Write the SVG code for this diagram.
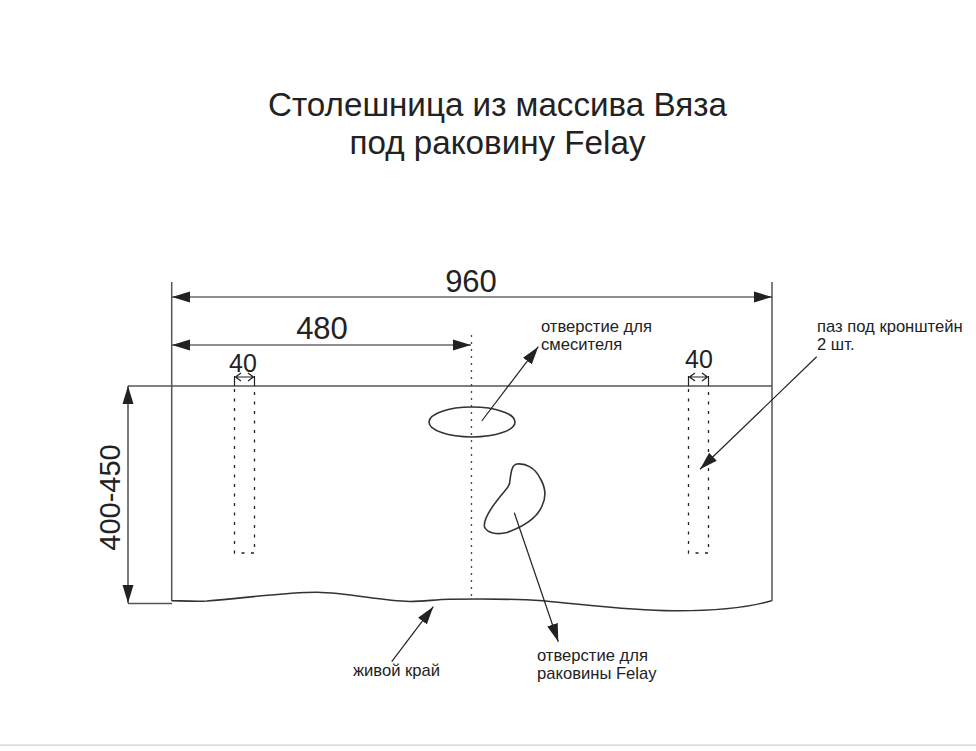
<svg xmlns="http://www.w3.org/2000/svg" width="976" height="751" viewBox="0 0 976 751">
<style>
text{font-family:"Liberation Sans",Arial,sans-serif;fill:#222}
.title{font-size:33.2px;text-anchor:middle}
.dim{font-size:31px;text-anchor:middle}
.rot{font-size:29px;text-anchor:middle}
.sm{font-size:25px;text-anchor:middle}
.lab{font-size:16.6px}
.g{fill:none;stroke:#555;stroke-width:1.5}
.k{fill:none;stroke:#222;stroke-width:1.2}
.e{fill:none;stroke:#333;stroke-width:1.6}
.d{fill:none;stroke:#444;stroke-width:1.3;stroke-dasharray:2 5}
.s{fill:none;stroke:#222;stroke-width:1.3;stroke-dasharray:3 6.500}
.o{fill:none;stroke:#222;stroke-width:1.2}
</style>
<defs>
<marker id="a" markerUnits="userSpaceOnUse" markerWidth="19" markerHeight="12" refX="18" refY="6" orient="auto-start-reverse"><path d="M0 .5L18 6L0 11.5Z" fill="#222"/></marker>
</defs>
<rect width="976" height="751" fill="#fff"/>
<rect x="0" y="744.500" width="976" height="1.200" fill="#ccc"/>
<g id="title"><text class="title" x="497.500" y="116">Столешница из массива Вяза</text><text class="title" x="497.500" y="154">под раковину Felay</text></g>
<g id="tabletop">
<path class="g" d="M171.700 282V601M772 282V601M128 386H772M128 603.500H172"/>
<path class="e" d="M171.700 600.700C185 601 197 601.500 207 601C245 598 285 592.300 317 592.300C350 593 380 601 410 601.500C425 601.500 435 599.500 450 599.300C490 598.500 515 599 543 600.700C590 605 630 610.700 673 610.700C715 611 750 607 771.700 600.700"/>
</g>
<g id="center-line"><path class="d" d="M471.500 335V598"/></g>
<g id="slot-left"><path class="s" d="M234.500 389V553H254.500V389"/><path class="o" d="M234.500 376V386M254.500 376V386"/></g>
<g id="slot-right"><path class="s" d="M688.500 389V553H708.500V389"/><path class="o" d="M688.500 376V386M708.500 376V386"/></g>
<g id="faucet-hole"><ellipse cx="472" cy="422" rx="43" ry="15" class="e"/></g>
<g id="sink-hole"><path class="e" d="M510 480C511 472 512 464.500 517 464C526 463 535 468 540 478C546 488 546 498 542 506C537 518 525 526 507 532.500C497 535 487 533 484.500 527C483 519 491 508 499 498C505 490 510 487 510 480Z"/></g>
<g id="connectors">
<path class="k" marker-start="url(#a)" marker-end="url(#a)" d="M172 297H772"/>
<path class="k" marker-start="url(#a)" marker-end="url(#a)" d="M172 345H471"/>
<path class="k" marker-start="url(#a)" marker-end="url(#a)" d="M128 386V603"/>
<path class="o" d="M235.500 377H253.500M241 373L235.500 377L241 381M248 373L253.500 377L248 381"/>
<path class="o" d="M689.500 377H707.500M695 373L689.500 377L695 381M702 373L707.500 377L702 381"/>
<path class="k" marker-end="url(#a)" d="M481.700 421L538.300 346.700"/>
<path class="k" marker-end="url(#a)" d="M816.700 356.700L700 469.300"/>
<path class="k" marker-end="url(#a)" d="M391.700 661.700L433.300 606.700"/>
<path class="k" marker-end="url(#a)" d="M514.300 512.700L558.300 641.700"/>
</g>
<g id="labels">
<text class="dim" x="471" y="292">960</text>
<text class="dim" x="322" y="339">480</text>
<text class="sm" x="243" y="372">40</text>
<text class="sm" x="699" y="368">40</text>
<text class="rot" transform="translate(120 497.500) rotate(-90)">400-450</text>
<text class="lab" x="541" y="332">отверстие для<tspan x="541" y="350">смесителя</tspan></text>
<text class="lab" x="817" y="331.500">паз под кронштейн<tspan x="817" y="349.500">2 шт.</tspan></text>
<text class="lab" x="353" y="676">живой край</text>
<text class="lab" x="537" y="661">отверстие для<tspan x="537" y="679">раковины Felay</tspan></text>
</g>
</svg>
